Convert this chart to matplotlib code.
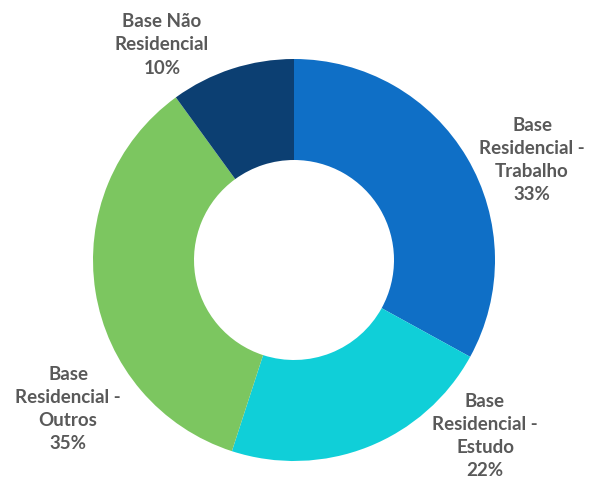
import matplotlib.pyplot as plt

# share of trips by base type
categories = ["Base\nResidencial -\nTrabalho", "Base\nResidencial -\nEstudo",
              "Base\nResidencial -\nOutros", "Base Não\nResidencial"]
shares = [33, 22, 35, 10]
colors = ["#0F6FC6", "#10CFD8", "#7CC660", "#0C3F72"]

W, H = 590, 484
fig = plt.figure(figsize=(W / 100, H / 100), dpi=100)
ax = fig.add_axes([0, 0, 1, 1])

ax.pie(shares, colors=colors, startangle=90, counterclock=False,
       center=(294, H - 260), radius=201, frame=True,
       wedgeprops=dict(width=101, linewidth=0))
ax.set_xlim(0, W)
ax.set_ylim(0, H)
ax.set_aspect("equal")
ax.axis("off")

# label anchor points (pixels from top-left)
label_pos = [(532, 160), (485, 436), (68, 409), (162, 45)]
for name, val, (x, y) in zip(categories, shares, label_pos):
    ax.text(x, H - y, f"{name}\n{val}%", ha="center", va="center",
            fontsize=13.5, fontweight="bold", color="#595959",
            family=["Lato", "DejaVu Sans"], linespacing=1.45)

fig.savefig("out.png", dpi=100)
